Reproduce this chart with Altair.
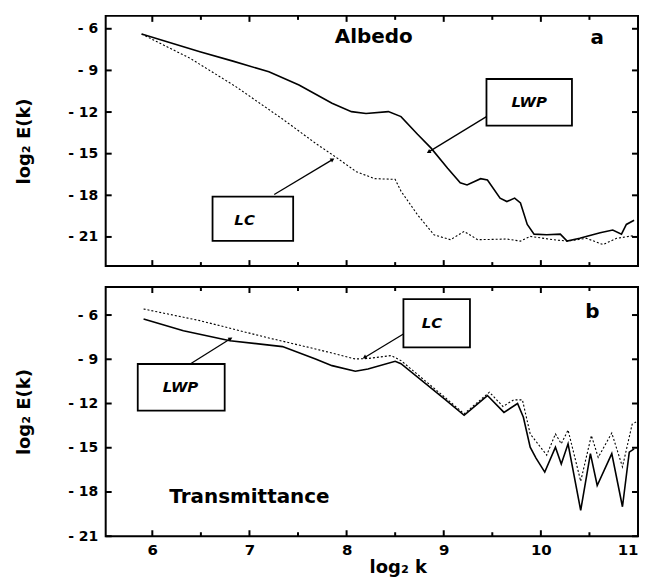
import math
import altair as alt
import pandas as pd

# ---------------- data ----------------
# Panel a (Albedo)
a_lwp_k = [5.89, 6.49, 6.83, 7.2, 7.51, 7.85, 8.05, 8.2, 8.43, 8.56, 8.73, 8.87, 9.04, 9.17, 9.24,
           9.38, 9.45, 9.58, 9.65, 9.73, 9.79, 9.86, 9.93, 10.06, 10.2, 10.27, 10.4, 10.61, 10.74,
           10.83, 10.88, 10.96]
a_lwp_v = [-6.38, -7.65, -8.33, -9.1, -10.05, -11.37, -11.97, -12.1, -11.97, -12.33, -13.6, -14.6,
           -16.05, -17.1, -17.25, -16.8, -16.9, -18.2, -18.45, -18.2, -18.55, -20.1, -20.8, -20.84,
           -20.8, -21.3, -21.1, -20.7, -20.5, -20.8, -20.1, -19.8]
a_lc_k = [5.89, 6.39, 6.86, 7.34, 7.69, 7.9, 8.1, 8.29, 8.5, 8.56, 8.73, 8.9, 9.07, 9.21, 9.35,
          9.65, 9.79, 9.89, 10.13, 10.27, 10.47, 10.64, 10.78, 10.96]
a_lc_v = [-6.38, -8.13, -10.17, -12.5, -14.3, -15.3, -16.3, -16.8, -16.85, -17.7, -19.4, -20.85,
          -21.2, -20.6, -21.2, -21.15, -21.3, -20.96, -21.2, -21.3, -21.1, -21.55, -21.1, -20.9]

# Panel b (Transmittance)
b_lwp_k = [5.91, 6.32, 6.8, 7.34, 7.68, 7.85, 8.09, 8.22, 8.5, 8.56, 9.01, 9.21, 9.45, 9.62, 9.76,
           9.82, 9.89, 9.95, 10.04, 10.15, 10.21, 10.28, 10.41, 10.51, 10.58, 10.73, 10.84, 10.91,
           10.96]
b_lwp_v = [-6.27, -7.06, -7.74, -8.14, -8.98, -9.43, -9.81, -9.66, -9.14, -9.3, -11.7, -12.8,
           -11.46, -12.6, -12.0, -12.93, -14.96, -15.7, -16.65, -14.96, -16.1, -14.73, -19.25,
           -15.4, -17.56, -15.4, -19.0, -15.3, -15.07]
b_lc_k = [5.91, 6.49, 7.17, 7.68, 8.09, 8.22, 8.46, 8.56, 9.01, 9.21, 9.47, 9.61, 9.72, 9.81, 9.89,
          10.06, 10.15, 10.21, 10.28, 10.41, 10.52, 10.59, 10.73, 10.84, 10.94, 10.98]
b_lc_v = [-5.59, -6.38, -7.51, -8.3, -8.98, -8.95, -8.75, -9.09, -11.57, -12.7, -11.23, -12.2,
          -11.75, -11.75, -14.06, -15.5, -14.06, -14.73, -13.8, -17.27, -14.17, -15.65, -14.0,
          -16.3, -13.4, -13.25]

# annotation boxes (corners in data units), their text and arrows
a_box_k1 = [6.62, 9.44]
a_box_k2 = [7.45, 10.32]
a_box_v1 = [-18.09, -9.62]
a_box_v2 = [-21.28, -12.98]
a_box_text = ["LC", "LWP"]
a_box_tk = [6.95, 9.88]
a_box_tv = [-19.75, -11.3]
a_arrow_k1 = [7.255, 9.44]
a_arrow_v1 = [-17.94, -12.33]
a_arrow_k2 = [7.85, 8.85]
a_arrow_v2 = [-15.45, -14.85]
a_label_text = ["Albedo", "a"]
a_label_k = [8.28, 10.58]
a_label_v = [-6.62, -6.65]

b_box_k1 = [5.85, 8.585]
b_box_k2 = [6.745, 9.27]
b_box_v1 = [-9.32, -4.92]
b_box_v2 = [-12.48, -8.19]
b_box_text = ["LWP", "LC"]
b_box_tk = [6.29, 8.88]
b_box_tv = [-10.9, -6.55]
b_arrow_k1 = [6.39, 8.585]
b_arrow_v1 = [-9.32, -7.29]
b_arrow_k2 = [6.8, 8.19]
b_arrow_v2 = [-7.62, -8.86]
b_label_text = ["Transmittance", "b"]
b_label_k = [7.0, 10.53]
b_label_v = [-18.32, -5.8]

x_major = [6, 7, 8, 9, 10, 11]
x_minor = [6.5, 7.5, 8.5, 9.5, 10.5]
y_major = [-6, -9, -12, -15, -18, -21]

X_DOMAIN = [5.52, 11.0]
W = 534
FONT = "DejaVu Sans"


def build_panel(lwp_k, lwp_v, lc_k, lc_v, y_domain, height,
                bk1, bk2, bv1, bv2, btext, btk, btv,
                ak1, av1, ak2, av2, ltext, lk, lv, show_x):
    xs = alt.Scale(domain=X_DOMAIN, nice=False, zero=False)
    ys = alt.Scale(domain=y_domain, nice=False, zero=False)
    lwp = pd.DataFrame({"k": lwp_k, "v": lwp_v})
    lc = pd.DataFrame({"k": lc_k, "v": lc_v})

    x_main = alt.X("k:Q", scale=xs, axis=alt.Axis(
        orient="bottom", values=x_major, ticks=False, domain=False, grid=False,
        labels=show_x, labelFont=FONT, labelFontSize=15, labelFontWeight="bold",
        labelPadding=6, labelFlush=True, labelColor="black",
        title="log₂ k" if show_x else None, titleFont=FONT, titleFontSize=18,
        titleFontWeight="bold", titleColor="black", titleX=293, titleY=31,
        titleBaseline="middle"))
    y_main = alt.Y("v:Q", scale=ys, axis=alt.Axis(
        orient="left", values=y_major, ticks=False, domain=False, grid=False,
        labelExpr="datum.value < 0 ? '- ' + abs(datum.value) : datum.label",
        labelFont=FONT, labelFontSize=14, labelFontWeight="bold", labelPadding=8,
        labelColor="black",
        title="log₂ E(k)", titleFont=FONT, titleFontSize=18, titleFontWeight="bold",
        titleColor="black", titleX=-81, titleY=height / 2, titleAngle=270,
        titleAlign="center", titleBaseline="middle"))

    l_lwp = alt.Chart(lwp).mark_line(color="black", strokeWidth=1.6).encode(x=x_main, y=y_main)
    l_lc = alt.Chart(lc).mark_line(color="black", strokeWidth=1.1, strokeDash=[2, 2]).encode(
        x=alt.X("k:Q", scale=xs, axis=None), y=alt.Y("v:Q", scale=ys, axis=None))

    # inward frame ticks as short rules, lengths converted from pixels to data units
    kx = W / (X_DOMAIN[1] - X_DOMAIN[0])
    ky = height / (y_domain[1] - y_domain[0])
    lo, hi = y_domain
    t_x1, t_x2, t_y1, t_y2 = [], [], [], []
    for t in x_major:
        t_x1 += [t, t]; t_x2 += [t, t]
        t_y1 += [lo, hi]; t_y2 += [lo + 6 / ky, hi - 6 / ky]
    for t in x_minor:
        t_x1 += [t, t]; t_x2 += [t, t]
        t_y1 += [lo, hi]; t_y2 += [lo + 4 / ky, hi - 4 / ky]
    for t in y_major:
        t_y1 += [t, t]; t_y2 += [t, t]
        t_x1 += [X_DOMAIN[0], X_DOMAIN[1]]
        t_x2 += [X_DOMAIN[0] + 6 / kx, X_DOMAIN[1] - 6 / kx]
    tick_df = pd.DataFrame({"x1": t_x1, "x2": t_x2, "y1": t_y1, "y2": t_y2})
    ticks = alt.Chart(tick_df).mark_rule(color="black", strokeWidth=2).encode(
        x=alt.X("x1:Q", scale=xs, axis=None), x2="x2:Q",
        y=alt.Y("y1:Q", scale=ys, axis=None), y2="y2:Q")

    boxes = pd.DataFrame({"k1": bk1, "k2": bk2, "v1": bv1, "v2": bv2,
                          "t": btext, "tk": btk, "tv": btv})
    rects = alt.Chart(boxes).mark_rect(fill="white", stroke="black", strokeWidth=1.8).encode(
        x=alt.X("k1:Q", scale=xs, axis=None), x2="k2:Q",
        y=alt.Y("v1:Q", scale=ys, axis=None), y2="v2:Q")
    btexts = alt.Chart(boxes).mark_text(font=FONT, fontSize=15, fontWeight="bold",
                                        fontStyle="italic", color="black").encode(
        x=alt.X("tk:Q", scale=xs, axis=None), y=alt.Y("tv:Q", scale=ys, axis=None), text="t:N")

    angles = []
    for x1, y1, x2, y2 in zip(ak1, av1, ak2, av2):
        dx = (x2 - x1) * kx
        dy = -(y2 - y1) * ky
        angles.append(math.degrees(math.atan2(dx, -dy)) % 360)
    arrows = pd.DataFrame({"k1": ak1, "v1": av1, "k2": ak2, "v2": av2, "ang": angles})
    rules = alt.Chart(arrows).mark_rule(color="black", strokeWidth=1.3).encode(
        x=alt.X("k1:Q", scale=xs, axis=None), x2="k2:Q",
        y=alt.Y("v1:Q", scale=ys, axis=None), y2="v2:Q")
    heads = alt.Chart(arrows).mark_point(shape="triangle", filled=True, color="black",
                                         size=22, opacity=1).encode(
        x=alt.X("k2:Q", scale=xs, axis=None), y=alt.Y("v2:Q", scale=ys, axis=None),
        angle=alt.Angle("ang:Q", scale=None))

    labels = pd.DataFrame({"t": ltext, "k": lk, "v": lv})
    ltexts = alt.Chart(labels).mark_text(font=FONT, fontSize=20, fontWeight="bold",
                                         color="black").encode(
        x=alt.X("k:Q", scale=xs, axis=None), y=alt.Y("v:Q", scale=ys, axis=None), text="t:N")

    return alt.layer(l_lwp, l_lc, ticks, rules, heads, rects, btexts,
                     ltexts).resolve_axis(x="independent", y="independent").properties(
        width=W, height=height)


pa = build_panel(a_lwp_k, a_lwp_v, a_lc_k, a_lc_v, [-23.1, -5.07], 251,
                 a_box_k1, a_box_k2, a_box_v1, a_box_v2, a_box_text, a_box_tk, a_box_tv,
                 a_arrow_k1, a_arrow_v1, a_arrow_k2, a_arrow_v2,
                 a_label_text, a_label_k, a_label_v, False)
pb = build_panel(b_lwp_k, b_lwp_v, b_lc_k, b_lc_v, [-21.0, -4.1], 250,
                 b_box_k1, b_box_k2, b_box_v1, b_box_v2, b_box_text, b_box_tk, b_box_tv,
                 b_arrow_k1, b_arrow_v1, b_arrow_k2, b_arrow_v2,
                 b_label_text, b_label_k, b_label_v, True)

chart = alt.vconcat(pa, pb, spacing=17).properties(
    padding={"left": 7, "top": 5, "right": 0, "bottom": 0}
).configure_view(stroke="black", strokeWidth=2)

chart.save("out.html", embed_options={"renderer": "svg", "actions": False})
